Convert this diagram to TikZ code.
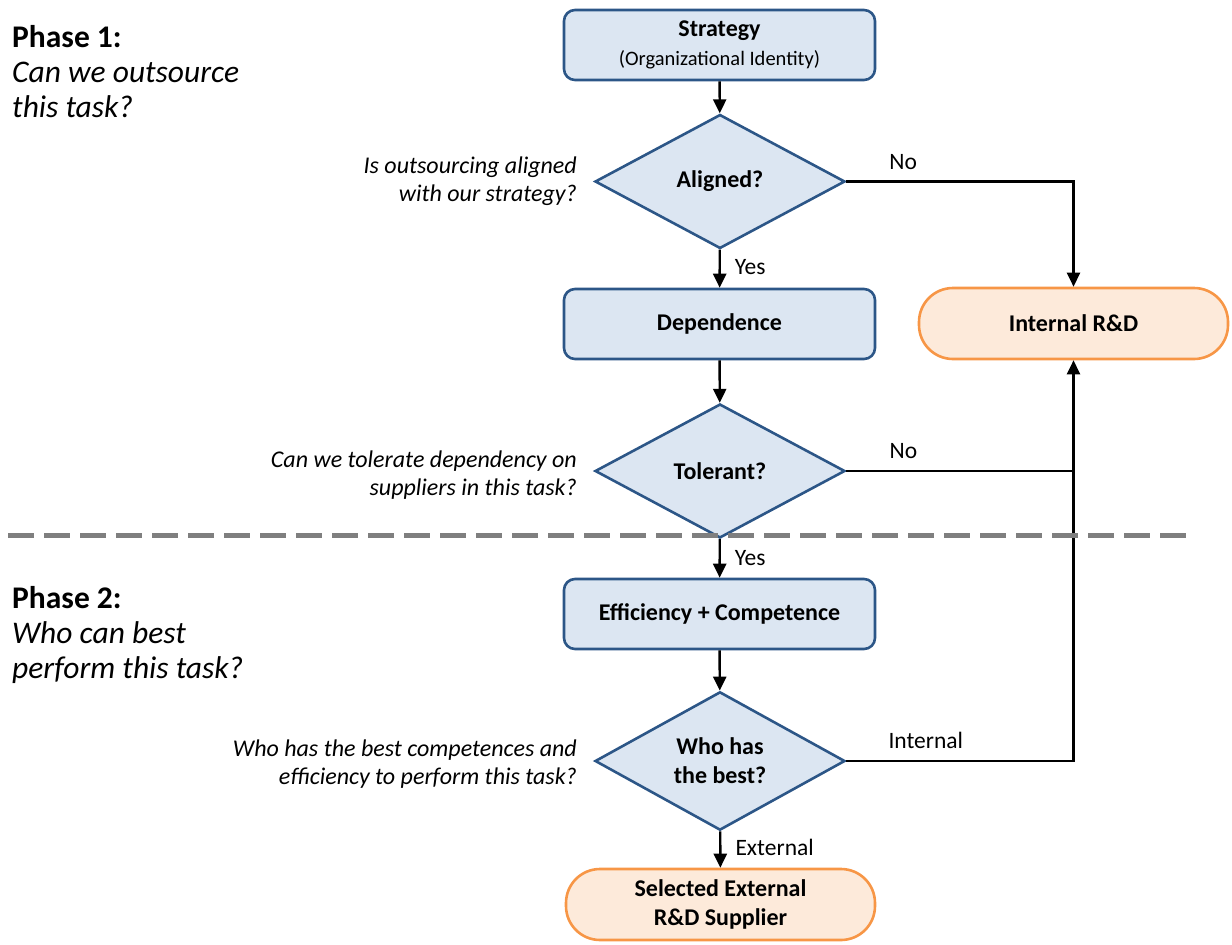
\documentclass[tikz,border=0pt]{standalone}
\usepackage{fontspec}
\setmainfont{Carlito}
\usetikzlibrary{shapes.geometric,arrows.meta}
\definecolor{bbord}{HTML}{2C5687}
\definecolor{bfill}{HTML}{DCE6F2}
\definecolor{obord}{HTML}{F79646}
\definecolor{ofill}{HTML}{FDEADA}
\definecolor{dgray}{HTML}{7F7F7F}
\begin{document}
\begin{tikzpicture}[x=1pt,y=-1pt,
  procbox/.style={draw=bbord,fill=bfill,line width=2.6pt,rounded corners=11pt,minimum width=311pt,minimum height=70pt,align=center,font=\fontsize{24}{28}\selectfont\bfseries,inner sep=0pt},
  decbox/.style={diamond,draw=bbord,fill=bfill,line width=2.6pt,minimum width=250pt,minimum height=134pt,inner sep=0pt,align=center,font=\fontsize{24}{29}\selectfont\bfseries},
  termbox/.style={draw=obord,fill=ofill,line width=2.6pt,rounded corners=34pt,minimum width=309pt,minimum height=71pt,align=center,font=\fontsize{24}{29}\selectfont\bfseries,inner sep=0pt},
  flow/.style={line width=2.4pt,-{Triangle[width=13pt,length=14pt]}},
  plain/.style={line width=2.4pt},
  lbl/.style={font=\fontsize{23.5}{28}\selectfont,inner sep=0pt},
  qtext/.style={font=\fontsize{24}{28}\selectfont\itshape,align=right,anchor=east,inner sep=0pt},
  phase/.style={font=\fontsize{31.5}{35}\selectfont,align=left,anchor=north west,inner sep=0pt}
]
\useasboundingbox (0,0) rectangle (1232,945);

\node[procbox] (strat) at (719.5,45) {Strategy\\[1pt]{\fontsize{20.5}{24}\selectfont\mdseries (Organizational Identity)}};
\node[decbox] (aligned) at (720,181.5) {Aligned?};
\node[procbox] (dep) at (719.5,324) {Dependence};
\node[decbox] (tol) at (720,471) {Tolerant?};
\node[procbox] (eff) at (719.5,614) {Efficiency + Competence};
\node[decbox] (who) at (720,761) {Who has\\the best?};
\node[termbox] (sel) at (720.5,904.5) {Selected External\\R\&D Supplier};
\node[termbox] (int) at (1073.5,323.5) {Internal R\&D};

\coordinate (c2) at (1075,471);

\draw[flow] (strat) -- (aligned);
\draw[flow] (aligned) -- node[lbl,right=14pt,pos=0.45] {Yes} (dep);
\draw[flow] (dep) -- (tol);
\draw[flow] (tol) -- node[lbl,right=14pt,pos=0.5] {Yes} (eff);
\draw[flow] (eff) -- (who);
\draw[flow] (who) -- node[lbl,right=14pt,pos=0.45] {External} (sel);

\draw[flow] (aligned.east) -| node[lbl,above=11pt,pos=0.125] {No} (int.north);
\draw[plain] (tol.east) -- node[lbl,above=11pt,pos=0.25] {No} (c2);
\draw[flow] (who.east) -| node[lbl,above=11pt,pos=0.175] {Internal} (int.south);

\draw[dgray,line width=5pt,dash pattern=on 26pt off 10pt] (8,535) -- (1190,535);

\node[phase] (p1) at (12,25) {\textbf{Phase 1:}\\\textit{Can we outsource}\\\textit{this task?}};
\node[phase] (p2) at (12,586) {\textbf{Phase 2:}\\\textit{Who can best}\\\textit{perform this task?}};

\node[qtext] (q1) at (577,181) {Is outsourcing aligned\\with our strategy?};
\node[qtext] (q2) at (577,475) {Can we tolerate dependency on\\suppliers in this task?};
\node[qtext] (q3) at (577,764) {Who has the best competences and\\efficiency to perform this task?};
\end{tikzpicture}
\end{document}
